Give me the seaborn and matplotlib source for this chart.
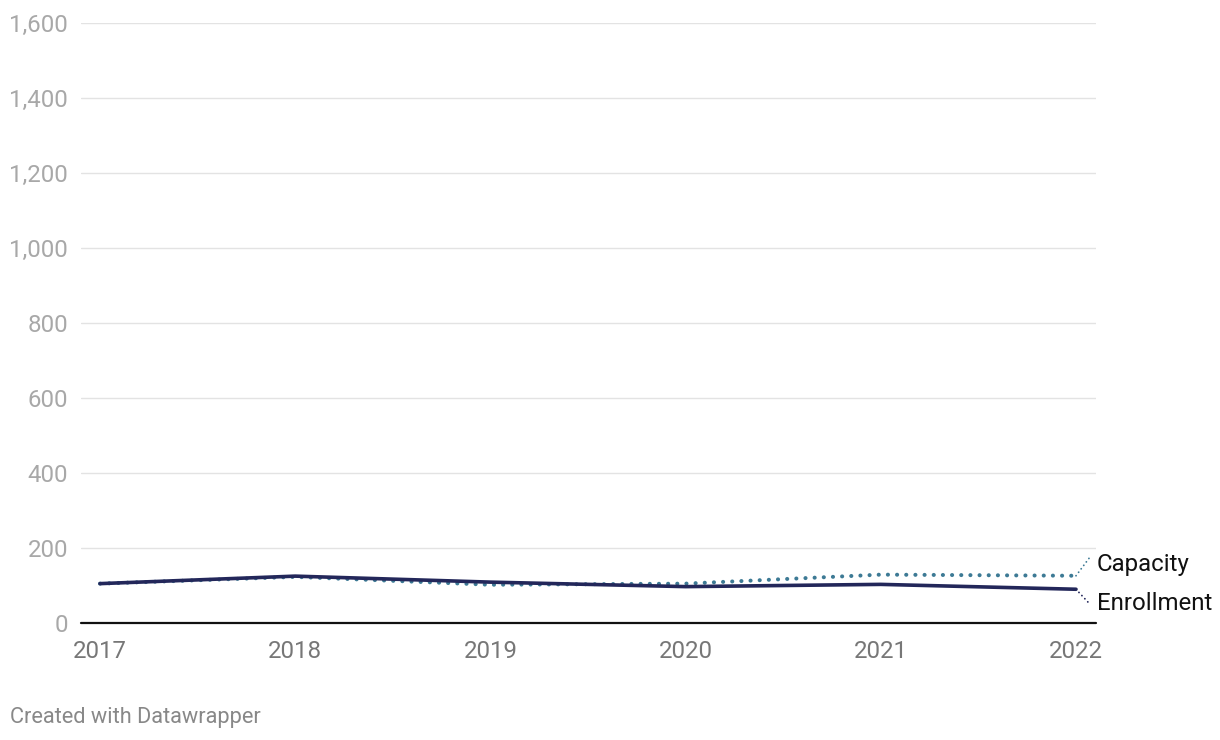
import matplotlib
matplotlib.use("Agg")
import matplotlib.pyplot as plt
import seaborn as sns
import pandas as pd

years = [2017, 2018, 2019, 2020, 2021, 2022]
capacity = [105, 123, 102, 105, 129, 126]
enrollment = [105, 125, 109, 97, 103, 90]
y_ticks = [0, 200, 400, 600, 800, 1000, 1200, 1400, 1600]
series_labels = ["Capacity", "Enrollment"]

sns.set_theme(style="white")
plt.rcParams["font.family"] = ["Roboto", "DejaVu Sans"]
plt.rcParams["lines.scale_dashes"] = False

cap_color = "#3d7a95"
enr_color = "#23275a"

fig = plt.figure(figsize=(12.2, 7.4), dpi=100)
ax = fig.add_axes([81 / 1220, (740 - 623) / 740, (1096 - 81) / 1220, 600 / 740])

df = pd.DataFrame({"year": years, "Capacity": capacity, "Enrollment": enrollment})

sns.lineplot(data=df, x="year", y="Capacity", ax=ax, color=cap_color, lw=2.9,
             linestyle=(0, (0.1, 6.5)), dash_capstyle="round", zorder=3)
sns.lineplot(data=df, x="year", y="Enrollment", ax=ax, color=enr_color, lw=2.6,
             solid_capstyle="round", zorder=4)

ax.set_xlim(2017 - 19 / 195.2, 2022 + 20 / 195.2)
ax.set_ylim(0, 1600)
ax.set_yticks(y_ticks)
ax.set_yticklabels([f"{v:,}" for v in y_ticks])
ax.set_xticks(years)
ax.set_xticklabels([str(y) for y in years])

for v in y_ticks[1:]:
    ax.axhline(v, color="#e3e3e3", lw=1.0, zorder=1)
ax.axhline(0, color="#111111", lw=1.6, zorder=5, clip_on=False)

for s in ax.spines.values():
    s.set_visible(False)
ax.tick_params(axis="y", length=0, pad=9.4, labelsize=17.3, labelcolor="#a8a8a8")
ax.tick_params(axis="x", length=0, pad=12, labelsize=17.3, labelcolor="#777777")
ax.set_xlabel("")
ax.set_ylabel("")
ax.grid(False)

# direct labels with connectors
x_end = years[-1]
dx = 14 / 195.2
ax.plot([x_end, x_end + dx], [capacity[-1], capacity[-1] + 50], color=cap_color, lw=1.3,
        linestyle=(0, (0.1, 3)), dash_capstyle="round", clip_on=False)
ax.plot([x_end, x_end + dx], [enrollment[-1], enrollment[-1] - 40], color=enr_color, lw=1.3,
        linestyle=(0, (0.1, 3)), dash_capstyle="round", clip_on=False)
ax.text(x_end + 21 / 195.2, 155, series_labels[0], fontsize=17.3, color="#111111",
        va="center", ha="left", clip_on=False)
ax.text(x_end + 21 / 195.2, 53, series_labels[1], fontsize=17.3, color="#111111",
        va="center", ha="left", clip_on=False)

fig.text(10 / 1220, 1 - 717 / 740, "Created with Datawrapper", fontsize=15.7,
         color="#888888", ha="left", va="center")

fig.savefig("out.png", dpi=100, facecolor="white")
